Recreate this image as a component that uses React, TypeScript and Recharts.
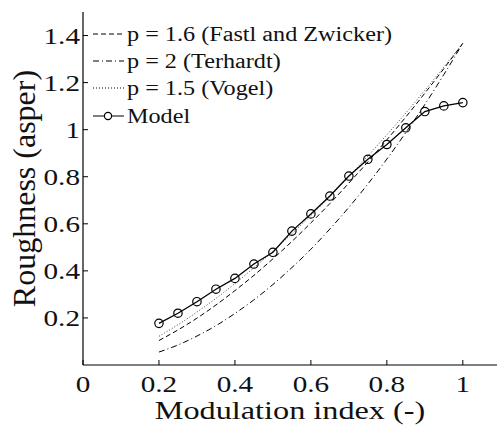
import { LineChart, Line, XAxis, YAxis, Legend, Label } from "recharts";

const modIndex = [0.2, 0.25, 0.3, 0.35, 0.4, 0.45, 0.5, 0.55, 0.6, 0.65, 0.7, 0.75, 0.8, 0.85, 0.9, 0.95, 1];
const model = [0.177, 0.22, 0.269, 0.322, 0.368, 0.429, 0.479, 0.569, 0.642, 0.718, 0.803, 0.874, 0.937, 1.008, 1.077, 1.101, 1.115];
const fastlZwicker = [0.104, 0.149, 0.199, 0.255, 0.316, 0.381, 0.451, 0.525, 0.604, 0.686, 0.773, 0.863, 0.957, 1.054, 1.155, 1.259, 1.367];
const terhardt = [0.055, 0.085, 0.123, 0.167, 0.219, 0.277, 0.342, 0.414, 0.492, 0.578, 0.67, 0.769, 0.875, 0.988, 1.107, 1.234, 1.367];
const vogel = [0.122, 0.171, 0.225, 0.283, 0.346, 0.413, 0.483, 0.558, 0.635, 0.716, 0.801, 0.888, 0.978, 1.071, 1.167, 1.266, 1.367];

const xTicks = [0, 0.2, 0.4, 0.6, 0.8, 1];
const yTicks = [0.2, 0.4, 0.6, 0.8, 1, 1.2, 1.4];

const FONT = "Liberation Serif";
// the original figure is stretched sideways, so text gets a horizontal scale
const STRETCH = 1.27;

const data = modIndex.map((m, i) => ({
    m,
    model: model[i],
    fastl: fastlZwicker[i],
    terhardt: terhardt[i],
    vogel: vogel[i],
}));

const legendRows = [
    { label: "p = 1.6 (Fastl and Zwicker)", dash: "5 3", marker: false },
    { label: "p = 2 (Terhardt)", dash: "6 3 1 3", marker: false },
    { label: "p = 1.5 (Vogel)", dash: "1 2", marker: false },
    { label: "Model", dash: undefined, marker: true },
];

function LegendBox() {
    return (
        <div style={{ fontFamily: FONT, fontSize: 20, color: "#111" }}>
            {legendRows.map((r) => (
                <div key={r.label} style={{ display: "flex", alignItems: "center", height: 27.3 }}>
                    <svg width={34} height={20} style={{ flexShrink: 0 }}>
                        <line x1={0} y1={10} x2={31} y2={10} stroke="#000" strokeWidth={1} strokeDasharray={r.dash} />
                        {r.marker && <circle cx={15} cy={10} r={3.6} fill="#fff" stroke="#000" strokeWidth={1.2} />}
                    </svg>
                    <span style={{ whiteSpace: "nowrap", lineHeight: 1, display: "inline-block", transform: "scaleX(1.21)", transformOrigin: "left center" }}>
                        {r.label}
                    </span>
                </div>
            ))}
        </div>
    );
}

function XTick({ x, y, payload }: any) {
    return (
        <text transform={`translate(${x},${y + 27}) scale(${STRETCH},1)`} textAnchor="middle" style={{ fontSize: 23, fontFamily: FONT, fill: "#111" }}>
            {String(payload.value)}
        </text>
    );
}

function YTick({ x, y, payload }: any) {
    return (
        <text transform={`translate(${x},${y + 8}) scale(${STRETCH},1)`} textAnchor="end" style={{ fontSize: 23, fontFamily: FONT, fill: "#111" }}>
            {String(payload.value)}
        </text>
    );
}

export default function App() {
    return (
        <div style={{ position: "absolute", left: 0, top: 0, width: 497, height: 428, background: "#fff" }}>
            <LineChart width={497} height={428} data={data} margin={{ top: 12, right: 0, bottom: 0, left: 0 }}>
                <XAxis
                    xAxisId="bottom"
                    dataKey="m"
                    type="number"
                    domain={[0, 1.09]}
                    ticks={xTicks}
                    allowDataOverflow
                    height={63}
                    tickSize={-5}
                    tickMargin={5}
                    tick={(p: any) => <XTick {...p} />}
                    tickLine={{ stroke: "#000" }}
                    axisLine={{ stroke: "#000", strokeWidth: 1.2 }}
                >
                    <Label
                        content={({ viewBox }: any) => {
                            const cx = viewBox.x + viewBox.width / 2;
                            const by = viewBox.y + 54;
                            return (
                                <text transform={`translate(${cx},${by}) scale(1.29,1)`} textAnchor="middle" style={{ fontSize: 25, fontFamily: FONT, fill: "#111" }}>
                                    Modulation index (-)
                                </text>
                            );
                        }}
                    />
                </XAxis>
                <XAxis
                    xAxisId="top"
                    orientation="top"
                    dataKey="m"
                    type="number"
                    domain={[0, 1.09]}
                    ticks={xTicks}
                    allowDataOverflow
                    height={0}
                    tickSize={-5}
                    tick={false}
                    tickLine={{ stroke: "#000" }}
                    axisLine={{ stroke: "#000", strokeWidth: 1.2 }}
                />
                <YAxis
                    type="number"
                    domain={[0, 1.5]}
                    ticks={yTicks}
                    width={83}
                    tickSize={-5}
                    tickMargin={8}
                    tick={(p: any) => <YTick {...p} />}
                    tickLine={{ stroke: "#000" }}
                    axisLine={{ stroke: "#000", strokeWidth: 1.2 }}
                >
                    <Label
                        content={({ viewBox }: any) => {
                            const cx = viewBox.x + 35;
                            const cy = viewBox.y + viewBox.height / 2;
                            return (
                                <text x={cx} y={cy} transform={`rotate(-90 ${cx} ${cy})`} textAnchor="middle" style={{ fontSize: 32, fontFamily: FONT, fill: "#111" }}>
                                    Roughness (asper)
                                </text>
                            );
                        }}
                    />
                </YAxis>
                <Legend
                    layout="vertical"
                    align="center"
                    verticalAlign="middle"
                    content={() => <LegendBox />}
                    wrapperStyle={{ left: 93, top: 20, width: "auto" }}
                />
                <Line xAxisId="bottom" type="monotone" dataKey="vogel" stroke="#444" strokeWidth={1} strokeDasharray="1 2" dot={false} isAnimationActive={false} />
                <Line xAxisId="bottom" type="monotone" dataKey="terhardt" stroke="#000" strokeWidth={1} strokeDasharray="6 3 1 3" dot={false} isAnimationActive={false} />
                <Line xAxisId="bottom" type="monotone" dataKey="fastl" stroke="#000" strokeWidth={1} strokeDasharray="5 3" dot={false} isAnimationActive={false} />
                <Line
                    xAxisId="bottom"
                    type="linear"
                    dataKey="model"
                    stroke="#000"
                    strokeWidth={1.3}
                    dot={{ r: 4.2, fill: "none", stroke: "#000", strokeWidth: 1.2 }}
                    isAnimationActive={false}
                />
            </LineChart>
        </div>
    );
}
